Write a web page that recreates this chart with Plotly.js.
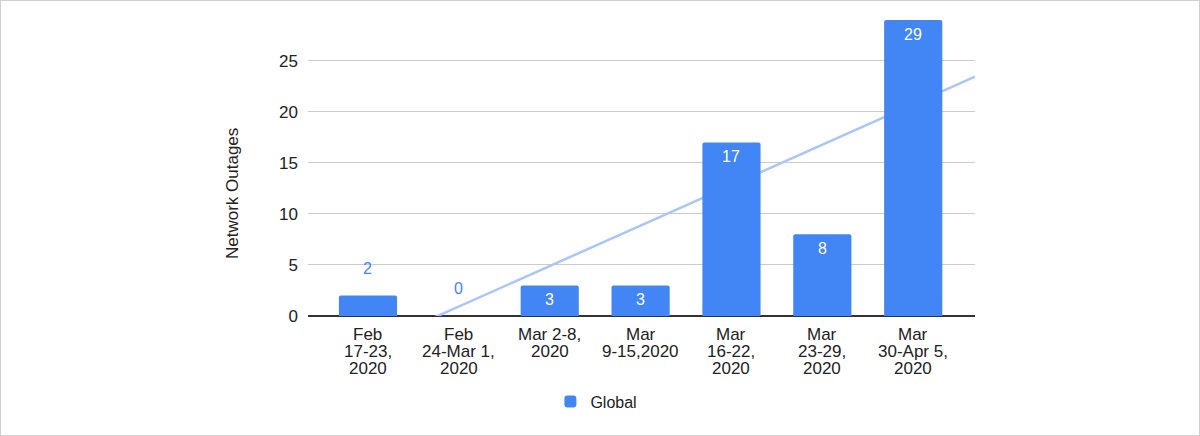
<!DOCTYPE html>
<html>
<head>
<meta charset="utf-8">
<script src="https://cdn.plot.ly/plotly-3.0.1.min.js"></script>
<style>
html,body{margin:0;padding:0;background:#fff;}
#wrap{position:relative;width:1200px;height:436px;}
#chart{width:1200px;height:436px;}
#frame{position:absolute;left:0;top:0;width:1198px;height:434px;border:1px solid #d0d0d0;pointer-events:none;}
</style>
</head>
<body>
<div id="wrap"><div id="chart"></div><div id="frame"></div></div>
<script>
// tick labels, one entry per category, lines separated by '|'
const categories = [
  'Feb|17-23,|2020',
  'Feb|24-Mar 1,|2020',
  'Mar 2-8,|2020',
  'Mar|9-15,2020',
  'Mar|16-22,|2020',
  'Mar|23-29,|2020',
  'Mar|30-Apr 5,|2020'
];
const globalValues = [2, 0, 3, 3, 17, 8, 29];
const seriesName = 'Global';
const yTitle = 'Network Outages';
const yTicks = [0, 5, 10, 15, 20, 25];

const idx = categories.map((_, i) => i);
const xRange = [-0.66, 6.68];
const yRange = [0, 29];

// linear trendline (least squares) from the series
const n = globalValues.length;
const mx = idx.reduce((a, b) => a + b, 0) / n;
const my = globalValues.reduce((a, b) => a + b, 0) / n;
let sxy = 0, sxx = 0;
idx.forEach(i => { sxy += (i - mx) * (globalValues[i] - my); sxx += (i - mx) * (i - mx); });
const slope = sxy / sxx, intercept = my - slope * mx;
const trendX = xRange.slice();
const trendY = trendX.map(x => intercept + slope * x);

const blue = '#4285F4';
const FONT = 'Liberation Sans, Arial, sans-serif';
const TXT = '#222222';
const small = globalValues.map(v => v < 3);

const trend = {
  type: 'scatter', mode: 'lines', x: trendX, y: trendY, xaxis: 'x', yaxis: 'y',
  line: {color: '#A9C7FA', width: 2.5}, showlegend: false, hoverinfo: 'skip'
};
const bars = {
  type: 'bar', name: seriesName, x: idx, y: globalValues, xaxis: 'x', yaxis: 'y2',
  marker: {color: blue, line: {width: 0}},
  width: 0.64
};

// data labels
const annotations = idx.map(i => small[i] ? ({
  x: i, y: globalValues[i], xref: 'x', yref: 'y',
  text: String(globalValues[i]), showarrow: false,
  yanchor: 'bottom', yshift: 17,
  font: {color: blue, size: 16, family: FONT}
}) : ({
  x: i, y: globalValues[i], xref: 'x', yref: 'y',
  text: String(globalValues[i]), showarrow: false,
  yanchor: 'top', yshift: -4,
  font: {color: '#ffffff', size: 16, family: FONT}
}));

// category labels (tight line spacing like the original)
const LINE_H = 16.8, FIRST_SHIFT = -8;
idx.forEach(i => {
  categories[i].split('|').forEach((line, k) => {
    annotations.push({
      x: i, y: 0, xref: 'x', yref: 'y', text: line, showarrow: false,
      xanchor: 'center', yanchor: 'top', yshift: FIRST_SHIFT - k * LINE_H,
      borderpad: 0,
      font: {color: TXT, size: 17, family: FONT}
    });
  });
});

// y axis title, centred on the chart block
annotations.push({
  x: 0, y: 0.412, xref: 'paper', yref: 'paper', xanchor: 'center', yanchor: 'middle',
  xshift: -76, text: yTitle, textangle: -90, showarrow: false,
  font: {color: TXT, size: 17, family: FONT}
});

const layout = {
  width: 1200, height: 436,
  margin: {l: 308, r: 225, t: 20, b: 120},
  paper_bgcolor: '#fff', plot_bgcolor: '#fff',
  font: {family: FONT, size: 16, color: TXT},
  barcornerradius: 2,
  showlegend: true,
  legend: {orientation: 'h', xref: 'container', yref: 'container', x: 0.497, xanchor: 'center', y: 0.04, yanchor: 'bottom', font: {size: 16, color: TXT}},
  xaxis: {
    range: xRange, tickmode: 'array', tickvals: idx, showticklabels: false,
    showgrid: false, zeroline: false, showline: false, ticks: '', fixedrange: true
  },
  yaxis: {
    range: yRange, tickmode: 'array', tickvals: yTicks,
    showgrid: true, gridcolor: '#cccccc', gridwidth: 1,
    zeroline: true, zerolinecolor: '#333333', zerolinewidth: 1.5,
    showline: false, ticks: '', ticklabelstandoff: 9,
    tickfont: {size: 17, color: TXT},
    fixedrange: true
  },
  yaxis2: {
    range: yRange, overlaying: 'y', side: 'left', visible: false,
    showgrid: false, zeroline: false, fixedrange: true
  },
  annotations: annotations
};

Plotly.newPlot('chart', [trend, bars], layout, {displayModeBar: false, staticPlot: true});
</script>
</body>
</html>
